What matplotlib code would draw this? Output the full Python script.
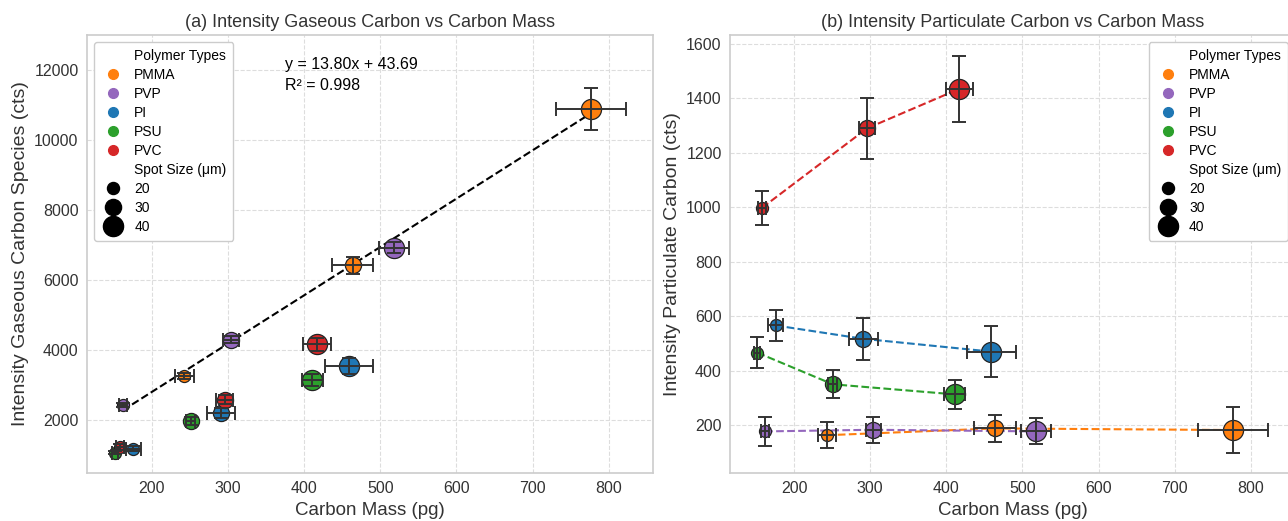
import numpy as np
import matplotlib
matplotlib.use('Agg')
import matplotlib.pyplot as plt
from matplotlib.lines import Line2D

plt.rcParams['font.family'] = ['Liberation Sans', 'DejaVu Sans']

polymers = ['PMMA', 'PVP', 'PI', 'PSU', 'PVC']
colors = {'PMMA': '#ff7f0e', 'PVP': '#9467bd', 'PI': '#1f77b4', 'PSU': '#2ca02c', 'PVC': '#d62728'}
spot_sizes = [20, 30, 40]

# carbon mass (pg) per polymer, spot size 20/30/40
mass = {
    'PMMA': [243, 464, 777],
    'PVP': [162, 304, 518],
    'PI': [176, 291, 459],
    'PSU': [152, 251, 411],
    'PVC': [158, 296, 417],
}
mass_err = {
    'PMMA': [12, 27, 46],
    'PVP': [5, 10, 20],
    'PI': [10, 19, 32],
    'PSU': [4, 6, 14],
    'PVC': [5, 11, 18],
}
gas = {
    'PMMA': [3270, 6420, 10880],
    'PVP': [2430, 4300, 6930],
    'PI': [1180, 2200, 3550],
    'PSU': [1070, 1970, 3150],
    'PVC': [1230, 2590, 4170],
}
gas_err = {
    'PMMA': [90, 250, 600],
    'PVP': [60, 110, 150],
    'PI': [70, 140, 220],
    'PSU': [40, 110, 160],
    'PVC': [80, 140, 190],
}
part = {
    'PMMA': [163, 188, 182],
    'PVP': [177, 183, 177],
    'PI': [566, 517, 470],
    'PSU': [466, 350, 313],
    'PVC': [998, 1290, 1435],
}
part_err = {
    'PMMA': [48, 50, 85],
    'PVP': [53, 47, 48],
    'PI': [57, 78, 95],
    'PSU': [57, 52, 52],
    'PVC': [62, 112, 120],
}
fit_slope = 13.80
fit_icpt = 43.69
fit_r2 = 0.998
fit_polymers = ['PMMA', 'PVP']

marker_area = {20: 75, 30: 135, 40: 210}


def style_ax(ax):
    ax.set_facecolor('white')
    ax.grid(True, linestyle='--', color='#dddddd', linewidth=0.8)
    ax.set_axisbelow(True)
    for s in ax.spines.values():
        s.set_color('#cccccc')
        s.set_linewidth(1.2)
    ax.tick_params(axis='both', labelsize=11.5, length=0, pad=6, colors='#333333')


def draw_points(ax, yd, ye, lines=False):
    for p in polymers:
        if lines:
            ax.plot(mass[p], yd[p], '--', color=colors[p], lw=1.5, zorder=2)
        for i, sp in enumerate(spot_sizes):
            ax.scatter(mass[p][i], yd[p][i], s=marker_area[sp], color=colors[p],
                       edgecolor='#222222', linewidth=0.9, zorder=3)
            ax.errorbar(mass[p][i], yd[p][i], xerr=mass_err[p][i], yerr=ye[p][i],
                        fmt='none', ecolor='#333333', elinewidth=1.4, capsize=5,
                        capthick=1.4, zorder=4)


def add_legend(ax, loc):
    h = [Line2D([], [], linestyle='none', label='Polymer Types')]
    for p in polymers:
        h.append(Line2D([], [], marker='o', linestyle='none', color=colors[p],
                        markersize=7, label=p))
    h.append(Line2D([], [], linestyle='none', label='Spot Size (μm)'))
    for sp in spot_sizes:
        h.append(Line2D([], [], marker='o', linestyle='none', color='black',
                        markersize=np.sqrt(marker_area[sp]), label=str(sp)))
    leg = ax.legend(handles=h, loc=loc, fontsize=10, frameon=True, handletextpad=0.6,
                    borderpad=0.5, labelspacing=0.36, framealpha=1, handlelength=1.8)
    leg.get_frame().set_edgecolor('#cccccc')


fig = plt.figure(figsize=(12.88, 5.21), dpi=100)
ax1 = fig.add_axes([0.0675, 0.092, 0.4394, 0.841])
ax2 = fig.add_axes([0.5668, 0.092, 0.4387, 0.841])

style_ax(ax1)
draw_points(ax1, gas, gas_err)
fx = [min(min(mass[p]) for p in fit_polymers), max(max(mass[p]) for p in fit_polymers)]
ax1.plot(fx, [fit_slope * v + fit_icpt for v in fx], '--', color='black', lw=1.5, zorder=2.5)
ax1.text(0.35, 0.95, f'y = {fit_slope:.2f}x + {fit_icpt:.2f}\nR² = {fit_r2:.3f}',
         transform=ax1.transAxes, fontsize=11.5, va='top', linespacing=1.5)
ax1.set_xlim(115, 858)
ax1.set_ylim(490, 13000)
ax1.set_yticks([2000, 4000, 6000, 8000, 10000, 12000])
ax1.set_xticks([200, 300, 400, 500, 600, 700, 800])
ax1.set_xlabel('Carbon Mass (pg)', fontsize=13.5, color='#333333')
ax1.set_ylabel('Intensity Gaseous Carbon Species (cts)', fontsize=14, color='#333333')
ax1.set_title('(a) Intensity Gaseous Carbon vs Carbon Mass', fontsize=13, color='#333333')
add_legend(ax1, 'upper left')

style_ax(ax2)
draw_points(ax2, part, part_err, lines=True)
ax2.set_xlim(116, 858)
ax2.set_ylim(24, 1633)
ax2.set_yticks([200, 400, 600, 800, 1000, 1200, 1400, 1600])
ax2.set_xticks([200, 300, 400, 500, 600, 700, 800])
ax2.set_xlabel('Carbon Mass (pg)', fontsize=13.5, color='#333333')
ax2.set_ylabel('Intensity Particulate Carbon (cts)', fontsize=14, color='#333333')
ax2.set_title('(b) Intensity Particulate Carbon vs Carbon Mass', fontsize=13, color='#333333')
add_legend(ax2, 'upper right')

fig.savefig('out.png', dpi=100, facecolor='white')
